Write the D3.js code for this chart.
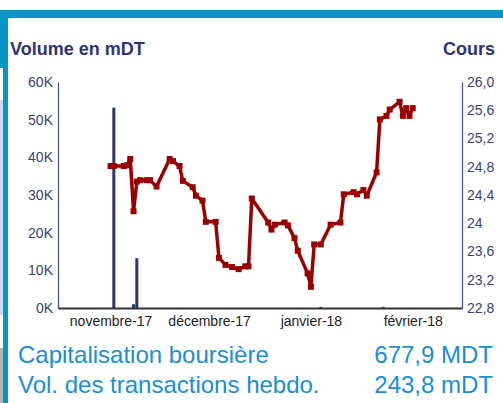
<!DOCTYPE html>
<html>
<head>
<meta charset="utf-8">
<script src="https://cdn.jsdelivr.net/npm/d3@7"></script>
<style>
  body { margin: 0; background: #fff; }
  svg { display: block; font-family: Arial, "Liberation Sans", sans-serif; }
</style>
</head>
<body>
<script>
// volume (mDT) per day
var volDates = ["2017-11-02", "2017-11-08", "2017-11-09", "2018-01-04", "2018-01-23"];
var volValues = [53200, 1000, 13200, 300, 300];

// cours
var coursDates = [
  "2017-11-01", "2017-11-02", "2017-11-05", "2017-11-06", "2017-11-07", "2017-11-08",
  "2017-11-09", "2017-11-10", "2017-11-12", "2017-11-13", "2017-11-15", "2017-11-19",
  "2017-11-20", "2017-11-22", "2017-11-23", "2017-11-26", "2017-11-27", "2017-11-29",
  "2017-11-30", "2017-12-03", "2017-12-04", "2017-12-06", "2017-12-08", "2017-12-10",
  "2017-12-12", "2017-12-13", "2017-12-14", "2017-12-19", "2017-12-20", "2017-12-21",
  "2017-12-24", "2017-12-25", "2017-12-27", "2017-12-28", "2017-12-31", "2018-01-01",
  "2018-01-02", "2018-01-04", "2018-01-07", "2018-01-10", "2018-01-11", "2018-01-14",
  "2018-01-15", "2018-01-17", "2018-01-18", "2018-01-21", "2018-01-22", "2018-01-24",
  "2018-01-25", "2018-01-28", "2018-01-29", "2018-01-30", "2018-01-31", "2018-02-01"
];
var coursValues = [
  24.81, 24.81, 24.81, 24.82, 24.91, 24.17,
  24.59, 24.61, 24.61, 24.61, 24.52, 24.91,
  24.88, 24.81, 24.60, 24.51, 24.39, 24.32,
  24.02, 24.02, 23.51, 23.41, 23.38, 23.35,
  23.39, 23.39, 24.35, 24.01, 23.91, 23.98,
  24.01, 23.97, 23.79, 23.61, 23.29, 23.10,
  23.70, 23.70, 23.98, 24.01, 24.41, 24.44,
  24.41, 24.47, 24.39, 24.72, 25.47, 25.52,
  25.61, 25.72, 25.52, 25.63, 25.52, 25.63
];

var monthTicks = ["2017-11-01", "2017-12-01", "2018-01-01", "2018-02-01"];
var monthLabels = ["novembre-17", "décembre-17", "janvier-18", "février-18"];
var volTicks = [0, 10000, 20000, 30000, 40000, 50000, 60000];
var coursTicks = [22.8, 23.2, 23.6, 24, 24.4, 24.8, 25.2, 25.6, 26.0];
var coursLabels = ["22,8", "23,2", "23,6", "24", "24,4", "24,8", "25,2", "25,6", "26,0"];

var parse = d3.timeParse("%Y-%m-%d");
var W = 503, H = 403;
var pLeft = 58, pRight = 462, pTop = 82, pBottom = 308;

var svg = d3.select("body").append("svg").attr("width", W).attr("height", H);

// frame
svg.append("rect").attr("x", 0).attr("y", 10).attr("width", W).attr("height", 8).attr("fill", "#0795c5");
svg.append("rect").attr("x", 3).attr("y", 10).attr("width", 5).attr("height", H - 10).attr("fill", "#0795c5");
svg.append("rect").attr("x", 0).attr("y", 18).attr("width", 3).attr("height", 50).attr("fill", "#0795c5");
svg.append("rect").attr("x", 0).attr("y", 100).attr("width", 3).attr("height", 215).attr("fill", "#c9dcf2");
svg.append("rect").attr("x", 0).attr("y", 348).attr("width", 3).attr("height", 55).attr("fill", "#b5b5b5");

var x = d3.scaleTime()
  .domain([d3.timeDay.offset(parse("2017-11-01"), -15.15), d3.timeDay.offset(parse("2017-11-01"), 107.3)])
  .range([pLeft, pRight]);
var yVol = d3.scaleLinear().domain([0, 60000]).range([pBottom, pTop]);
var yCours = d3.scaleLinear().domain([22.8, 26.0]).range([pBottom, pTop]);

// titles
svg.append("text").attr("x", 10).attr("y", 55).attr("font-size", 18).attr("font-weight", "bold")
  .attr("fill", "#2e3470").text("Volume en mDT");
svg.append("text").attr("x", 495).attr("y", 55).attr("font-size", 18).attr("font-weight", "bold")
  .attr("text-anchor", "end").attr("fill", "#2e3470").text("Cours");

// axes
var axL = svg.append("g").attr("transform", "translate(" + pLeft + ",0)")
  .call(d3.axisLeft(yVol).tickValues(volTicks).tickSize(0).tickPadding(5)
    .tickFormat(function(d) { return d / 1000 + "K"; }));
var axR = svg.append("g").attr("transform", "translate(" + pRight + ",0)")
  .call(d3.axisRight(yCours).tickValues(coursTicks).tickSize(0).tickPadding(5)
    .tickFormat(function(d, i) { return coursLabels[i]; }));
[axL, axR].forEach(function(a) {
  a.select(".domain").attr("stroke", "#4b5590").attr("stroke-width", 1.3);
  a.selectAll("text").attr("font-size", 14).attr("fill", "#3b4178").style("font-family", "Arial, 'Liberation Sans', sans-serif");
});

// volume bars
svg.append("g").selectAll("rect").data(volValues).enter().append("rect")
  .attr("x", function(d, i) { return x(parse(volDates[i])) - 1.5; })
  .attr("y", function(d) { return yVol(d); })
  .attr("width", 3)
  .attr("height", function(d) { return pBottom - yVol(d); })
  .attr("fill", "#2d3570");

var axB = svg.append("g").attr("transform", "translate(0," + pBottom + ")")
  .call(d3.axisBottom(x).tickValues(monthTicks.map(parse)).tickSize(0).tickPadding(8)
    .tickFormat(function(d, i) { return monthLabels[i]; }));
axB.select(".domain").attr("stroke", "#333").attr("stroke-width", 2);
axB.selectAll("text").attr("font-size", 14).attr("fill", "#222").style("font-family", "Arial, 'Liberation Sans', sans-serif");

// cours line
var pts = coursValues.map(function(v, i) { return [x(parse(coursDates[i])), yCours(v)]; });
svg.append("path").attr("d", d3.line()(pts)).attr("fill", "none")
  .attr("stroke", "#990000").attr("stroke-width", 3.5).attr("stroke-linejoin", "round");
svg.append("g").selectAll("rect").data(pts).enter().append("rect")
  .attr("x", function(d) { return d[0] - 3; })
  .attr("y", function(d) { return d[1] - 3; })
  .attr("width", 6).attr("height", 6).attr("fill", "#990000");

// footer
var footer = [["Capitalisation boursière", "677,9 MDT", 363], ["Vol. des transactions hebdo.", "243,8 mDT", 393]];
footer.forEach(function(f) {
  svg.append("text").attr("x", 18).attr("y", f[2]).attr("font-size", 24).attr("fill", "#1a8ed6").text(f[0]);
  svg.append("text").attr("x", 493).attr("y", f[2]).attr("font-size", 24).attr("text-anchor", "end")
    .attr("fill", "#1a8ed6").text(f[1]);
});
</script>
</body>
</html>
